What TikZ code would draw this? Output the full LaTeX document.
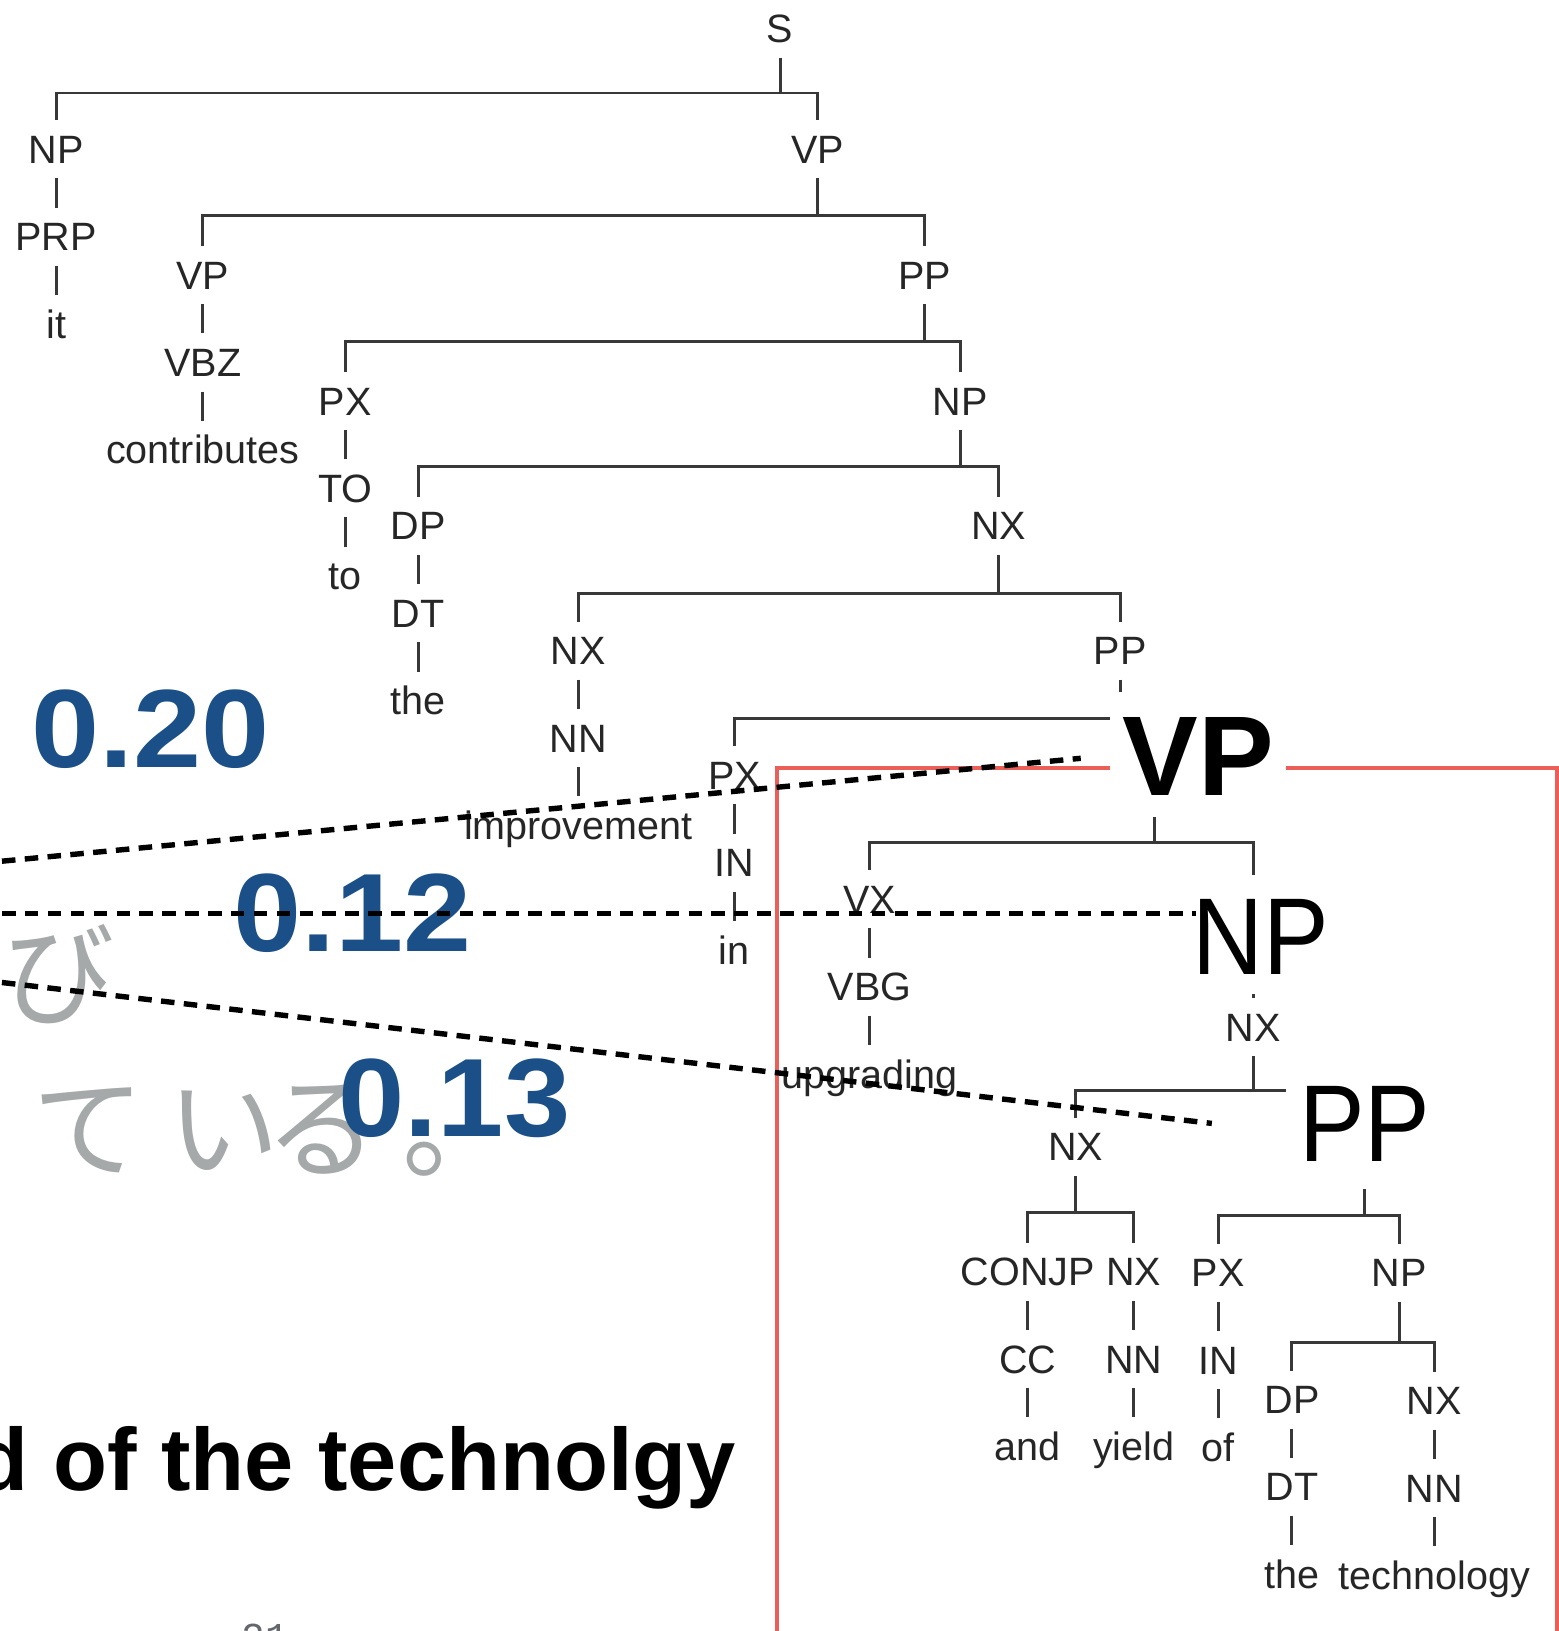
\documentclass[tikz,border=0pt]{standalone}
\usepackage{fontspec}
\setmainfont{Liberation Sans}
\newfontfamily\jpfont{Noto Sans CJK JP}
\newfontfamily\pagenumfont{Liberation Mono}
\definecolor{scoreblue}{RGB}{26,79,135}
\definecolor{kanagray}{RGB}{166,169,169}
\definecolor{boxred}{RGB}{234,96,89}
\definecolor{pagegray}{RGB}{100,104,110}
\pgfdeclarelayer{bg}
\pgfsetlayers{bg,main}
\begin{document}
\begin{tikzpicture}[x=0.5pt,y=-0.5pt,
  lbl/.style={font=\fontsize{19pt}{19pt}\selectfont, text=black!85, anchor=base,
    inner xsep=1pt, inner ysep=3pt, text height=17.5pt, text depth=4pt},
  tl/.style={draw=black!78, line width=1.4pt},
  score/.style={font=\bfseries\fontsize{53.5pt}{53.5pt}\selectfont, text=scoreblue, anchor=base, inner sep=0pt},
  kana/.style={font=\jpfont\fontsize{54pt}{54pt}\selectfont, text=kanagray, anchor=base west, inner sep=0pt},
  bigcat/.style={fill=white, anchor=base, inner ysep=0pt},
  align/.style={draw=black, line width=2.6pt, dash pattern=on 6.5pt off 4.5pt}]

\useasboundingbox (0,0) rectangle (1498,1568);

% Japanese sentence fragments
\node[kana] (kanaA) at (2,977) {び};
\node[kana] (kanaB) at (31,1124) {て\hspace{11pt}い\hspace{-7pt}る\hspace{12pt}。};

% alignment scores
\node[score] (scoreA) at (145,738) {\scalebox{1.1}[1]{0.20}};
\node[score] (scoreB) at (339,915) {\scalebox{1.1}[1]{0.12}};
\node[score] (scoreC) at (437,1093) {\scalebox{1.07}[1]{0.13}};

% English sentence fragment and page number
\node[font=\bfseries\fontsize{42.5pt}{42.5pt}\selectfont, anchor=base east, inner sep=0pt] (sent) at (708,1433) {d of the technolgy};
\node[font=\pagenumfont\fontsize{19pt}{19pt}\selectfont, text=pagegray, anchor=base west, inner sep=0pt] (pnum) at (232,1587) {21};

% parse tree labels
\node[lbl] (S) at (750,41) {S};
\node[lbl] (NPa) at (54,157) {NP};
\node[lbl] (PRP) at (54,241) {PRP};
\node[lbl] (it) at (54,325) {it};
\node[lbl] (VPa) at (786,157) {VP};
\node[lbl] (VPb) at (195,278) {VP};
\node[lbl] (VBZ) at (195,362) {VBZ};
\node[lbl] (contributes) at (195,446) {contributes};
\node[lbl] (PPa) at (889,278) {PP};
\node[lbl] (PXa) at (332,399) {PX};
\node[lbl] (TO) at (332,483) {TO};
\node[lbl] (to) at (332,567) {to};
\node[lbl] (NPb) at (923,399) {NP};
\node[lbl] (DPa) at (402,519) {DP};
\node[lbl] (DTa) at (402,603) {DT};
\node[lbl] (thea) at (402,687) {the};
\node[lbl] (NXa) at (960,519) {NX};
\node[lbl] (NXb) at (556,639) {NX};
\node[lbl] (NNa) at (556,723) {NN};
\node[lbl] (improvement) at (556,807) {improvement};
\node[lbl] (PPb) at (1077,639) {PP};
\node[lbl] (PXb) at (706,759) {PX};
\node[lbl] (INa) at (706,843) {IN};
\node[lbl] (in) at (706,927) {in};
\node[lbl] (VX) at (836,878) {VX};
\node[lbl] (VBG) at (836,962) {VBG};
\node[lbl] (upgrading) at (836,1046) {upgrading};
\node[lbl] (NXc) at (1205,1001) {NX};
\node[lbl] (NXd) at (1034,1116) {NX};
\node[lbl] (CONJP) at (988,1236) {CONJP};
\node[lbl] (CC) at (988,1320) {CC};
\node[lbl] (and) at (988,1404) {and};
\node[lbl] (NXe) at (1090,1236) {NX};
\node[lbl] (NNb) at (1090,1320) {NN};
\node[lbl] (yield) at (1090,1404) {yield};
\node[lbl] (PXc) at (1171,1237) {PX};
\node[lbl] (INb) at (1171,1321) {IN};
\node[lbl] (of) at (1171,1405) {of};
\node[lbl] (NPc) at (1345,1237) {NP};
\node[lbl] (DPb) at (1242,1359) {DP};
\node[lbl] (DTb) at (1242,1443) {DT};
\node[lbl] (theb) at (1242,1527) {the};
\node[lbl] (NXf) at (1379,1360) {NX};
\node[lbl] (NNc) at (1379,1444) {NN};
\node[lbl] (technology) at (1379,1528) {technology};

% enlarged categories of the highlighted subtree
\node[bigcat, font=\bfseries\fontsize{54.5pt}{54.5pt}\selectfont, inner xsep=0pt,
  text height=50pt, text depth=10pt, minimum width=84.5pt] (VPc) at (1152,765) {VP};
\node[bigcat, font=\fontsize{52.5pt}{52.5pt}\selectfont, inner xsep=3pt,
  text height=47.5pt, text depth=9pt] (NPd) at (1212,937) {\scalebox{0.9}[1]{NP}};
\node[bigcat, font=\fontsize{52.5pt}{52.5pt}\selectfont, inner xsep=0pt,
  text height=39.5pt, text depth=13pt, minimum width=76pt] (PPd) at (1312,1117) {\scalebox{0.9}[1]{PP}};
\coordinate (bVPc) at (1110,810);

\begin{pgfonlayer}{bg}
  \fill[white] (0,0) rectangle (1498,1568);
  % highlight frame
  \draw[boxred, line width=2pt] (747,1600) -- (747,738) -- (1497,738) -- (1497,1600);
  % tree branches
  \draw[tl] (S.south) -- ++(0,34) coordinate (bS);
  \draw[tl] (NPa.north) |- (bS) -| (VPa.north);
  \draw[tl] (NPa.south) -- (PRP.north);
  \draw[tl] (PRP.south) -- (it.north);
  \draw[tl] (VPa.south) -- ++(0,36) coordinate (bVPa);
  \draw[tl] (VPb.north) |- (bVPa) -| (PPa.north);
  \draw[tl] (VPb.south) -- (VBZ.north);
  \draw[tl] (VBZ.south) -- (contributes.north);
  \draw[tl] (PPa.south) -- ++(0,36) coordinate (bPPa);
  \draw[tl] (PXa.north) |- (bPPa) -| (NPb.north);
  \draw[tl] (PXa.south) -- (TO.north);
  \draw[tl] (TO.south) -- (to.north);
  \draw[tl] (NPb.south) -- ++(0,35) coordinate (bNPb);
  \draw[tl] (DPa.north) |- (bNPb) -| (NXa.north);
  \draw[tl] (DPa.south) -- (DTa.north);
  \draw[tl] (DTa.south) -- (thea.north);
  \draw[tl] (NXa.south) -- ++(0,37) coordinate (bNXa);
  \draw[tl] (NXb.north) |- (bNXa) -| (PPb.north);
  \draw[tl] (NXb.south) -- (NNa.north);
  \draw[tl] (NNa.south) -- (improvement.north);
  \draw[tl] (PPb.south) -- ++(0,37) coordinate (bPPb);
  \draw[tl] (PXb.north) |- (bPPb) -| (VPc.center);
  \draw[tl] (PXb.south) -- (INa.north);
  \draw[tl] (INa.south) -- (in.north);
  \draw[tl] (VPc.south -| bVPc) -- (bVPc);
  \draw[tl] (VX.north) |- (bVPc) -| (NPd.north -| NXc.north);
  \draw[tl] (VX.south) -- (VBG.north);
  \draw[tl] (VBG.south) -- (upgrading.north);
  \draw[tl] (NPd.south -| NXc.north) -- (NXc.north);
  \draw[tl] (NXc.south) -- ++(0,33) coordinate (bNXc);
  \draw[tl] (NXd.north) |- (bNXc) -| (PPd.center);
  \draw[tl] (NXd.south) -- ++(0,35) coordinate (bNXd);
  \draw[tl] (CONJP.north) |- (bNXd) -| (NXe.north);
  \draw[tl] (CONJP.south) -- (CC.north);
  \draw[tl] (CC.south) -- (and.north);
  \draw[tl] (NXe.south) -- (NNb.north);
  \draw[tl] (NNb.south) -- (yield.north);
  \draw[tl] (PPd.south) -- ++(0,25) coordinate (bPPd);
  \draw[tl] (PXc.north) |- (bPPd) -| (NPc.north);
  \draw[tl] (PXc.south) -- (INb.north);
  \draw[tl] (INb.south) -- (of.north);
  \draw[tl] (NPc.south) -- ++(0,39) coordinate (bNPc);
  \draw[tl] (DPb.north) |- (bNPc) -| (NXf.north);
  \draw[tl] (DPb.south) -- (DTb.north);
  \draw[tl] (DTb.south) -- (theb.north);
  \draw[tl] (NXf.south) -- (NNc.north);
  \draw[tl] (NNc.south) -- (technology.north);
\end{pgfonlayer}

% alignment links from the Japanese phrases to the subtree
\coordinate (linkAa) at (-20,830);
\coordinate (linkAb) at (1039,729);
\coordinate (linkBa) at (-20,878);
\coordinate (linkBb) at (1150,878);
\coordinate (linkCa) at (-20,942);
\coordinate (linkCb) at (1165,1080);
\draw[align] (linkAa) -- (linkAb);
\draw[align] (linkBa) -- (linkBb);
\draw[align] (linkCa) -- (linkCb);
\end{tikzpicture}
\end{document}
